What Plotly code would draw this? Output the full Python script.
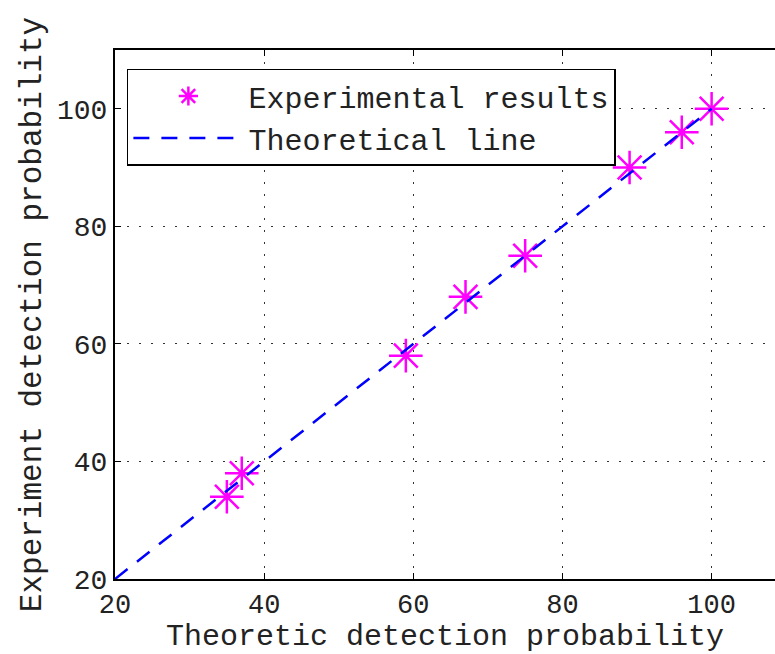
import plotly.graph_objects as go

theoretic = [35, 37, 59, 67, 75, 89, 96, 100]
experiment = [34, 38, 58, 68, 75, 90, 96, 100]
line_x = [20, 100]
line_y = [20, 100]
x_ticks = [20, 40, 60, 80, 100]
y_ticks = [20, 40, 60, 80, 100]

FONT = "Liberation Mono"

fig = go.Figure()
fig.add_trace(go.Scatter(
    x=theoretic, y=experiment, mode="markers", name="Experimental results",
    marker=dict(symbol="asterisk-open", size=28, color="#FF00FF",
                line=dict(color="#FF00FF", width=2.5)),
))
fig.add_trace(go.Scatter(
    x=line_x, y=line_y, mode="lines", name="Theoretical line",
    line=dict(color="#0000FF", width=2.5, dash="16px,12px"),
))

axis_common = dict(
    showgrid=True, gridcolor="#333", gridwidth=1, griddash="2px,10px",
    showline=True, linecolor="black", linewidth=2,
    ticks="inside", ticklen=6, tickcolor="black", tickwidth=1,
    zeroline=False,
)

fig.update_xaxes(range=[20, 108.5], tickvals=x_ticks, mirror="ticks",
                 tickfont=dict(family=FONT, size=27, color="#222"),
                 title=dict(text="Theoretic detection probability", standoff=0,
                            font=dict(family=FONT, size=30, color="#222")),
                 **axis_common)
fig.update_yaxes(range=[20, 110], tickvals=y_ticks, mirror=False,
                 tickfont=dict(family=FONT, size=28, color="#222"),
                 title=dict(text="Experiment detection probability", standoff=6,
                            font=dict(family=FONT, size=31, color="#222")),
                 **axis_common)

fig.update_layout(
    width=775, height=654,
    margin=dict(l=115, r=0, t=50, b=75),
    plot_bgcolor="white", paper_bgcolor="white",
    showlegend=True,
    legend=dict(x=0.018, y=0.965, xanchor="left", yanchor="top",
                bgcolor="white", bordercolor="black", borderwidth=1.5,
                font=dict(family=FONT, size=30, color="#222"),
                itemwidth=110, tracegroupgap=0),
)

fig.write_html("out.html")
